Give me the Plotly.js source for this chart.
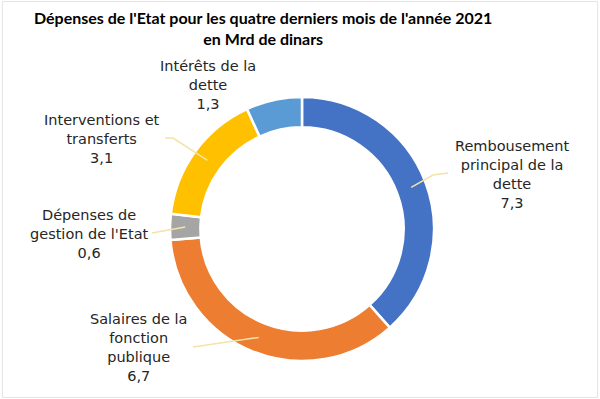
<!DOCTYPE html>
<html>
<head>
<meta charset="utf-8">
<script src="https://cdn.plot.ly/plotly-3.0.1.min.js"></script>
<style>html,body{margin:0;padding:0;background:#fff}#chart{width:600px;height:399px}</style>
</head>
<body>
<div id="chart"></div>
<script>
const categories = [
  "Rembousement principal de la dette",
  "Salaires de la fonction publique",
  "Dépenses de gestion de l'Etat",
  "Interventions et transferts",
  "Intérêts de la dette"
];
const values = [7.3, 6.7, 0.6, 3.1, 1.3];
const labelLines = [
  ["Rembousement", "principal de la", "dette"],
  ["Salaires de la", "fonction", "publique"],
  ["Dépenses de", "gestion de l'Etat"],
  ["Interventions et", "transferts"],
  ["Intérêts de la", "dette"]
];
const valueLabels = ["7,3", "6,7", "0,6", "3,1", "1,3"];
const colors = ["#4472C4", "#ED7D31", "#A5A5A5", "#FFC000", "#5B9BD5"];

const W = 600, H = 399;
// pie geometry in pixels
const cxPx = 302, cyPx = 229, R = 132, hole = 0.77;
const domX = [(cxPx - R) / W, (cxPx + R) / W];
const domY = [1 - (cyPx + R) / H, 1 - (cyPx - R) / H];

// label anchor positions (layout) and leader line end points (layout)
const labelPos = [
  {x: 512, y: 174},
  {x: 138, y: 347},
  {x: 89, y: 234},
  {x: 102, y: 139},
  {x: 208, y: 85}
];
const leaderEnds = [
  [[433, 175], [448, 173]],
  [[193, 347]],
  [[152, 233]],
  [[173, 138], [165, 138]],
  null
];

const total = values.reduce((a, b) => a + b, 0);
let cum = 0;
const shapes = [];
const annotations = [];
const toPaper = (p) => [p[0] / W, 1 - p[1] / H];
values.forEach((v, i) => {
  const mid = (cum + v / 2) / total * 2 * Math.PI;
  cum += v;
  const rMid = R * (1 + hole) / 2;
  const sx = cxPx + rMid * Math.sin(mid);
  const sy = cyPx - rMid * Math.cos(mid);
  if (leaderEnds[i]) {
    let path = "M" + toPaper([sx, sy]).join(",");
    leaderEnds[i].forEach(p => { path += " L" + toPaper(p).join(","); });
    shapes.push({type: "path", xref: "paper", yref: "paper", path: path,
      line: {color: "#F3E3A6", width: 1.5}});
  }
  const lines = labelLines[i].concat([valueLabels[i]]);
  annotations.push({
    xref: "paper", yref: "paper",
    x: labelPos[i].x / W, y: 1 - labelPos[i].y / H,
    xanchor: "center", yanchor: "middle",
    text: lines.join("<br>"), showarrow: false, align: "center",
    font: {family: "DejaVu Sans, sans-serif", size: 14.5, color: "#262626"}
  });
});

annotations.push({
  xref: "paper", yref: "paper", x: 263 / W, y: 1 - 28 / H,
  xanchor: "center", yanchor: "middle", showarrow: false, align: "center",
  text: "<b>Dépenses de l'Etat pour les quatre derniers mois de l'année 2021</b><br><b>en Mrd de dinars</b>",
  font: {family: "Lato, sans-serif", size: 16, color: "#000"}
});

shapes.push({type: "rect", xref: "paper", yref: "paper", x0: 0.004, x1: 0.996, y0: 0.004, y1: 0.996,
  line: {color: "#E3E3E3", width: 1}});

const data = [{
  type: "pie",
  labels: categories,
  values: values,
  hole: hole,
  sort: false,
  direction: "clockwise",
  rotation: 0,
  textinfo: "none",
  hoverinfo: "label+value",
  marker: {colors: colors, line: {color: "#fff", width: 2.5}},
  domain: {x: domX, y: domY},
  showlegend: false
}];

const layout = {
  width: W, height: H,
  margin: {l: 0, r: 0, t: 0, b: 0},
  paper_bgcolor: "#fff",
  showlegend: false,
  shapes: shapes,
  annotations: annotations
};
Plotly.newPlot("chart", data, layout, {displayModeBar: false, staticPlot: true});
</script>
</body>
</html>
